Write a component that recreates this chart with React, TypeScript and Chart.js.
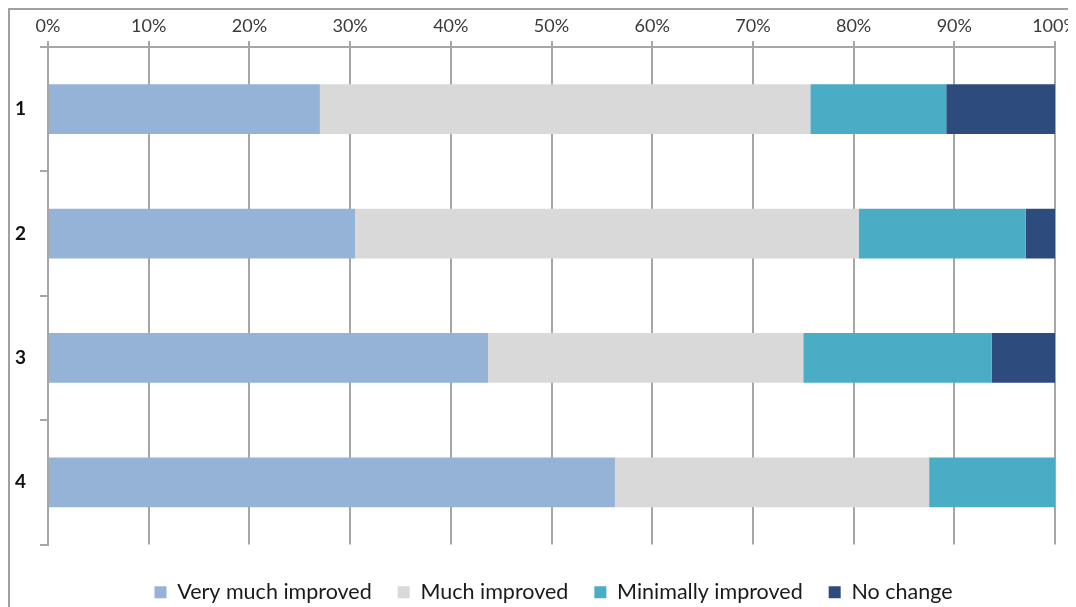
import { useEffect, useRef } from 'react';
import { Chart, registerables } from 'chart.js';

Chart.register(...registerables);

const categories = ['1', '2', '3', '4'];
const seriesNames = ['Very much improved', 'Much improved', 'Minimally improved', 'No change'];
const veryMuchImproved = [27.0, 30.5, 43.7, 56.3];
const muchImproved = [48.7, 50.0, 31.3, 31.2];
const minimallyImproved = [13.5, 16.6, 18.7, 12.5];
const noChange = [10.8, 2.9, 6.3, 0];
const seriesColors = ['#95b3d7', '#d9d9d9', '#4bacc6', '#2d4c7d'];
const xTickStep = 10;

const legendShift = {
  id: 'legendShift',
  afterLayout(chart: any) {
    const l = chart.legend;
    if (!l) return;
    l.top += 11;
    l.bottom += 11;
    l.left += 21;
    l.right += 21;
  },
};

export default function App() {
  const ref = useRef<HTMLCanvasElement | null>(null);

  useEffect(() => {
    if (!ref.current) return;
    const values = [veryMuchImproved, muchImproved, minimallyImproved, noChange];
    const chart = new Chart(ref.current, {
      type: 'bar',
      data: {
        labels: categories,
        datasets: seriesNames.map((name, i) => ({
          label: name,
          data: values[i],
          backgroundColor: seriesColors[i],
          borderWidth: 0,
          categoryPercentage: 0.8,
          barPercentage: 0.5,
        })),
      },
      options: {
        indexAxis: 'y',
        responsive: false,
        animation: false,
        layout: { padding: { top: 0, left: 0, right: 21, bottom: 5 } },
        plugins: {
          tooltip: { enabled: false },
          legend: {
            position: 'bottom',
            labels: {
              boxWidth: 12,
              boxHeight: 12,
              padding: 26,
              color: '#1a1a1a',
              font: { family: 'Lato', size: 21.5 },
            },
          },
        },
        scales: {
          x: {
            type: 'linear',
            position: 'top',
            stacked: true,
            min: 0,
            max: 100,
            ticks: {
              stepSize: xTickStep,
              callback: (v: any) => v + '%',
              color: '#3a3a3a',
              font: { family: 'Lato', size: 18 },
              padding: 4,
            },
            grid: { color: '#a6a6a6', lineWidth: 2, tickLength: 6 },
            border: { color: '#a6a6a6', width: 2 },
            afterFit: (s: any) => {
              s.height = 37;
              s.paddingLeft = 0;
              s.paddingRight = 0;
            },
          },
          y: {
            type: 'category',
            stacked: true,
            ticks: {
              color: '#111',
              font: { family: 'Lato', size: 19, weight: 'bold' },
              padding: 14,
            },
            grid: { drawOnChartArea: false, color: '#a6a6a6', lineWidth: 2, tickLength: 8, offset: true },
            border: { color: '#a6a6a6', width: 2 },
            afterFit: (s: any) => {
              s.width = 38;
            },
          },
        },
      },
      plugins: [legendShift],
    });
    return () => chart.destroy();
  }, []);

  return (
    <div
      style={{
        width: 1066,
        height: 597,
        borderLeft: '2px solid #a0a0a0',
        borderTop: '2px solid #a0a0a0',
        background: '#fff',
      }}
    >
      <canvas ref={ref} width={1066} height={597} style={{ display: 'block', width: 1066, height: 597 }} />
    </div>
  );
}
